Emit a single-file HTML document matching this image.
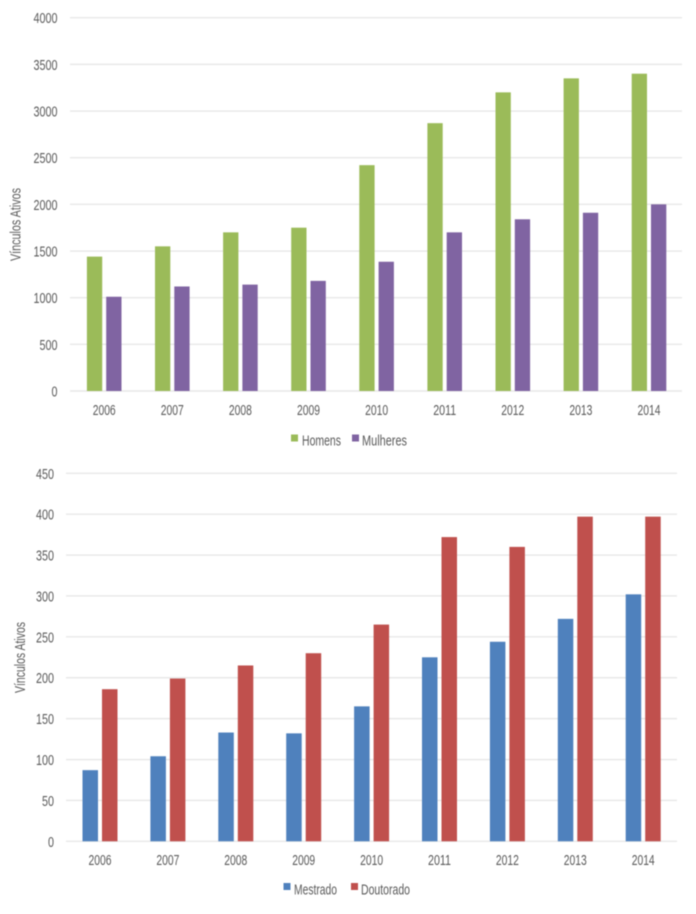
<!DOCTYPE html>
<html lang="pt">
<head>
<meta charset="utf-8">
<title>Vínculos Ativos</title>
<style>
html,body{margin:0;padding:0;background:#fff;}
#stage{display:block;width:696px;height:914px;filter:blur(0.4px);}
text{font-family:"Liberation Sans",sans-serif;font-size:14.5px;fill:#5a5a5a;}
</style>
</head>
<body>
<svg id="stage" xmlns="http://www.w3.org/2000/svg" width="696" height="914" viewBox="0 0 696 914">
  <g id="chart-top">
    <text transform="translate(20.5,261) rotate(-90)" textLength="73" lengthAdjust="spacingAndGlyphs" style="font-size:14.5px">Vínculos Ativos</text>
    <g id="plot-top"></g>
    <g>
      <rect x="291" y="434.5" width="7" height="7" fill="#9bbb59"/>
      <text x="302" y="445.5" textLength="39" lengthAdjust="spacingAndGlyphs">Homens</text>
      <rect x="352" y="434.5" width="7" height="7" fill="#8064a2"/>
      <text x="362" y="445.5" textLength="45" lengthAdjust="spacingAndGlyphs">Mulheres</text>
    </g>
  </g>
  <g id="chart-bottom">
    <text transform="translate(25,693) rotate(-90)" textLength="71" lengthAdjust="spacingAndGlyphs" style="font-size:14.5px">Vínculos Ativos</text>
    <g id="plot-bottom"></g>
    <g>
      <rect x="283.5" y="883" width="7" height="7" fill="#4f81bd"/>
      <text x="294" y="894.5" textLength="43" lengthAdjust="spacingAndGlyphs">Mestrado</text>
      <rect x="351" y="883" width="7" height="7" fill="#c0504d"/>
      <text x="361" y="894.5" textLength="49" lengthAdjust="spacingAndGlyphs">Doutorado</text>
    </g>
  </g>
</svg>
<script>
var years = ["2006","2007","2008","2009","2010","2011","2012","2013","2014"];
var homens = [1440,1550,1700,1750,2420,2870,3200,3350,3400];
var mulheres = [1010,1120,1140,1180,1385,1700,1840,1910,2000];
var mestrado = [87,104,133,132,165,225,244,272,302];
var doutorado = [186,199,215,230,265,372,360,397,397];
var topTicks = [0,500,1000,1500,2000,2500,3000,3500,4000];
var bottomTicks = [0,50,100,150,200,250,300,350,400,450];

var NS = "http://www.w3.org/2000/svg";

function make(tag, attrs, parent) {
  var el = document.createElementNS(NS, tag);
  for (var k in attrs) el.setAttribute(k, attrs[k]);
  parent.appendChild(el);
  return el;
}

function drawChart(parent, cfg, ticks, cats, s1, s2) {
  var maxTick = Math.max.apply(null, ticks);
  function yPos(v) { return cfg.y0 - (v / maxTick) * (cfg.y0 - cfg.y1); }
  function xPos(i) { return cfg.cx0 + i * cfg.step; }

  ticks.forEach(function (t) {
    var line = make("line", {x1: cfg.gx0, x2: cfg.gx1, y1: yPos(t), y2: yPos(t), stroke: "#e8e8e8", "stroke-width": 1.4}, parent);
    
    
    var lab = make("text", {x: cfg.tickRight, y: yPos(t) + 5.5, "text-anchor": "end", textLength: String(t).length * 6, lengthAdjust: "spacingAndGlyphs"}, parent);
    
    
    lab.textContent = String(t);
  });

  cats.forEach(function (c, i) {
    var cx = xPos(i);
    var a = make("rect", {x: cx - cfg.gap / 2 - cfg.barW, y: yPos(s1[i]), width: cfg.barW, height: cfg.y0 - yPos(s1[i]), fill: cfg.c1}, parent);
    
    
    var b = make("rect", {x: cx + cfg.gap / 2, y: yPos(s2[i]), width: cfg.barW, height: cfg.y0 - yPos(s2[i]), fill: cfg.c2}, parent);
    
    
    var lab = make("text", {x: cx, y: cfg.labelY, "text-anchor": "middle", textLength: 23, lengthAdjust: "spacingAndGlyphs"}, parent);
    
    
    lab.textContent = c;
  });
}

drawChart(document.getElementById("plot-top"),
  {y0: 391, y1: 17.7, gx0: 70, gx1: 682, cx0: 104.2, step: 68.1, barW: 15.3, gap: 4, tickRight: 57.5, labelY: 415, c1: "#9bbb59", c2: "#8064a2", n1: "homens", n2: "mulheres"},
  topTicks, years, homens, mulheres);

drawChart(document.getElementById("plot-bottom"),
  {y0: 841.3, y1: 473.3, gx0: 66, gx1: 677, cx0: 100, step: 67.9, barW: 15.5, gap: 4, tickRight: 54, labelY: 865, c1: "#4f81bd", c2: "#c0504d", n1: "mestrado", n2: "doutorado"},
  bottomTicks, years, mestrado, doutorado);
</script>
</body>
</html>
